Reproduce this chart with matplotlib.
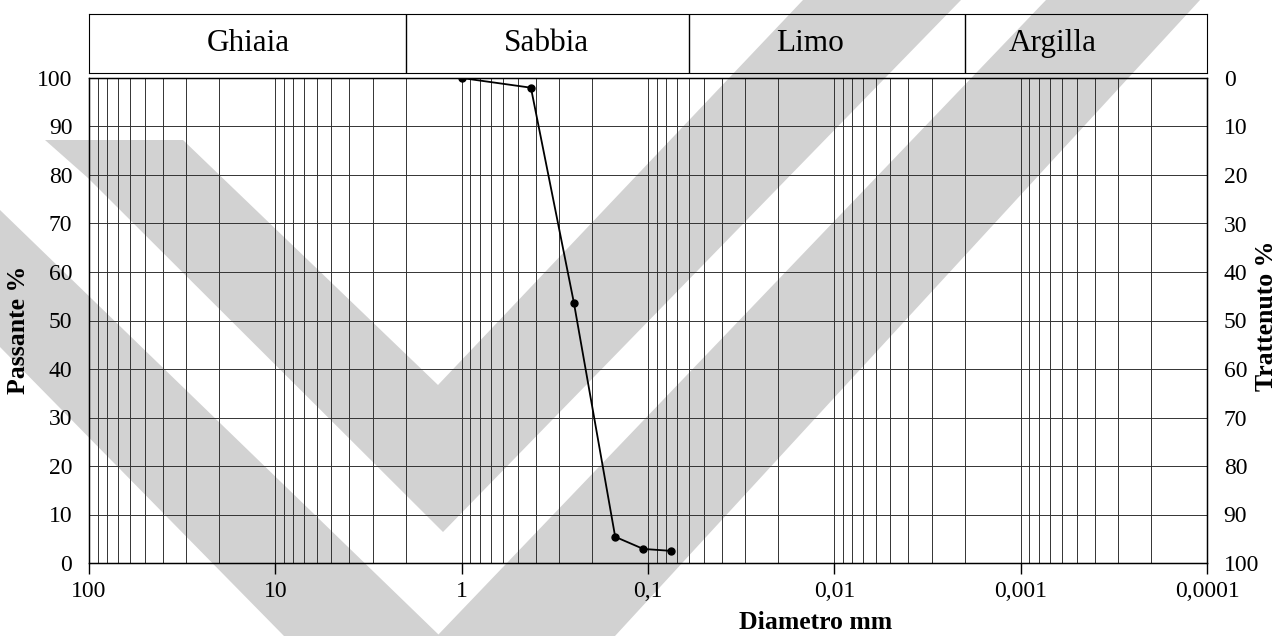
import numpy as np
import matplotlib.pyplot as plt
from matplotlib.patches import Polygon
from matplotlib.ticker import LogLocator, NullFormatter

plt.rcParams['font.family'] = ['Liberation Serif', 'DejaVu Serif']

# curva granulometrica
diametro = [1.0, 0.425, 0.25, 0.15, 0.106, 0.075]
passante = [100, 98.0, 53.7, 5.4, 2.9, 2.5]

x_ticks = [100, 10, 1, 0.1, 0.01, 0.001, 0.0001]
x_tick_labels = ["100", "10", "1", "0,1", "0,01", "0,001", "0,0001"]
y_ticks = list(range(0, 101, 10))

classi = ["Ghiaia", "Sabbia", "Limo", "Argilla"]
limiti_classi = [100, 2, 0.06, 0.002, 0.0001]
pos_classi = [14, 0.35, 0.0135, 0.00067]

W, H = 1286, 636
fig = plt.figure(figsize=(W / 100, H / 100), dpi=100)

# scanned watermark stripes (background, pixel coords)
bg = fig.add_axes([0, 0, 1, 1], zorder=-1)
bg.set_xlim(0, W)
bg.set_ylim(H, 0)
bg.axis('off')
stripes = [
    [(45, 140), (183, 140), (438, 385), (803, 0), (961, 0), (443, 532), (88, 178)],
    [(0, 210), (440, 636), (284, 636), (0, 347)],
    [(437, 636), (1046, 0), (1200, 0), (615, 636)],
]
for s in stripes:
    bg.add_patch(Polygon(s, closed=True, facecolor='#d2d2d2', edgecolor='none'))

# main chart
ax = fig.add_axes([89 / W, 1 - 563 / H, 1118 / W, 485 / H])
ax.set_facecolor('none')
ax.set_xscale('log')
ax.set_xlim(100, 0.0001)
ax.set_ylim(0, 100)
ax.plot(diametro, passante, color='black', lw=1.3, marker='o', ms=5, zorder=5)

ax.set_xticks(x_ticks)
ax.set_xticklabels(x_tick_labels)
ax.xaxis.set_minor_locator(LogLocator(base=10, subs=np.arange(2, 10)))
ax.xaxis.set_minor_formatter(NullFormatter())
ax.set_yticks(y_ticks)
ax.tick_params(axis='x', which='major', length=8, width=1, pad=5, labelsize=17)
ax.tick_params(axis='x', which='minor', length=0)
ax.tick_params(axis='y', length=0, pad=12, labelsize=17)
ax.grid(True, which='both', color='#333333', lw=0.7)
for sp in ax.spines.values():
    sp.set_linewidth(1.0)

ax.set_xlabel('Diametro mm', fontsize=18.5, fontweight='bold')
ax.xaxis.set_label_coords(0.65, -0.098)
ax.set_ylabel('Passante %', fontsize=18.5, fontweight='bold')
ax.yaxis.set_label_coords(-0.053, 0.48)

ax2 = ax.twinx()
ax2.set_ylim(100, 0)
ax2.set_yticks(y_ticks)
ax2.tick_params(axis='y', length=0, pad=12, labelsize=17)
ax2.set_ylabel('Trattenuto %', fontsize=18.5, fontweight='bold')
ax2.yaxis.set_label_coords(1.043, 0.51)

# class header
hax = fig.add_axes([89 / W, 1 - 73 / H, 1118 / W, 59 / H])
hax.set_facecolor('none')
hax.set_xscale('log')
hax.set_xlim(100, 0.0001)
hax.set_ylim(0, 1)
hax.set_xticks([])
hax.set_yticks([])
hax.minorticks_off()
for b in limiti_classi[1:-1]:
    hax.axvline(b, color='black', lw=1)
for nome, xp in zip(classi, pos_classi):
    hax.text(xp, 0.5, nome, ha='center', va='center', fontsize=22.5)

fig.savefig('out.png', dpi=100)
